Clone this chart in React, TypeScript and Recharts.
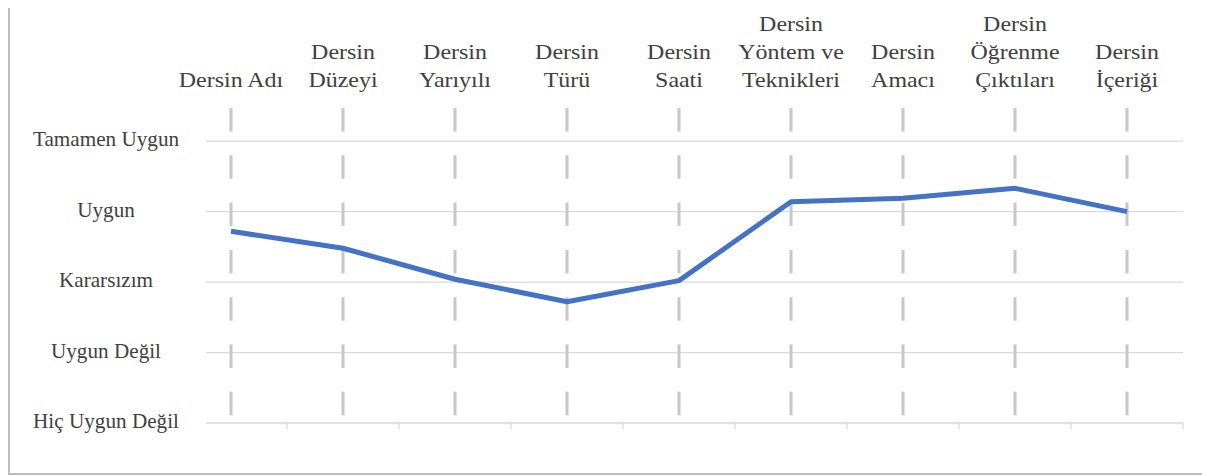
import { LineChart, Line, XAxis, YAxis, CartesianGrid } from "recharts"

// category labels, already broken into the lines shown above the plot
const categoryLines = [
  ["Dersin Adı"],
  ["Dersin", "Düzeyi"],
  ["Dersin", "Yarıyılı"],
  ["Dersin", "Türü"],
  ["Dersin", "Saati"],
  ["Dersin", "Yöntem ve", "Teknikleri"],
  ["Dersin", "Amacı"],
  ["Dersin", "Öğrenme", "Çıktıları"],
  ["Dersin", "İçeriği"],
]
const categories = categoryLines.map((l) => l.join(" "))

const scores = [3.72, 3.48, 3.04, 2.72, 3.02, 4.14, 4.19, 4.33, 4.0]

const levelTicks = [1, 2, 3, 4, 5]
const levelLabels = ["Hiç Uygun Değil", "Uygun Değil", "Kararsızım", "Uygun", "Tamamen Uygun"]

const data = categories.map((name, i) => ({ name, score: scores[i] }))

const textColor = "#404040"
const font = "'Liberation Serif', 'Times New Roman', serif"
const halfBand = 56

function TopTick(props: any) {
  const { x, y, index } = props
  const lines = categoryLines[index] || []
  return (
    <text
      transform={`translate(${x} 0) scale(1.14 1)`}
      textAnchor="middle"
      fontSize={21}
      fontFamily={font}
      fill={textColor}
    >
      {lines.map((l, i) => (
        <tspan key={i} x={0} y={y - 21 - (lines.length - 1 - i) * 28}>
          {l}
        </tspan>
      ))}
    </text>
  )
}

// small tick mark on the right edge of each category
function EdgeTick(props: any) {
  const { x, y } = props
  return <line x1={x + halfBand} y1={y} x2={x + halfBand} y2={y + 6} stroke="#d9d9d9" strokeWidth={1.3} />
}

function LevelTick(props: any) {
  const { y, payload } = props
  const label = levelLabels[levelTicks.indexOf(payload.value)]
  return (
    <text
      transform={`translate(96 0) scale(1.06 1)`}
      x={0}
      y={y + 5}
      textAnchor="middle"
      fontSize={20}
      fontFamily={font}
      fill={textColor}
    >
      {label}
    </text>
  )
}

export default function App() {
  return (
    <div style={{ marginTop: -6 }}>
      <div
        style={{
          width: 1196,
          height: 469,
          border: "2px solid #bdbdbd",
          background: "#fff",
        }}
      >
        <LineChart
          width={1196}
          height={469}
          data={data}
          margin={{ top: 0, right: 23, bottom: 0, left: 0 }}
        >
          <CartesianGrid
            xAxisId="top"
            yAxisId="y"
            vertical={false}
            syncWithTicks
            horizontal={(p: any) => (
              <line
                key={`h-${p.y1}`}
                x1={p.x1 + 31}
                y1={p.y1}
                x2={p.x2}
                y2={p.y2}
                stroke="#d9d9d9"
                strokeWidth={1.3}
              />
            )}
          />
          <CartesianGrid
            xAxisId="top"
            yAxisId="y"
            horizontal={false}
            syncWithTicks
            stroke="#c8c8c8"
            strokeWidth={3}
            strokeDasharray="23.5 23.8"
          />
          <XAxis
            xAxisId="top"
            dataKey="name"
            orientation="top"
            height={104}
            padding={{ left: halfBand, right: halfBand }}
            axisLine={false}
            tickLine={false}
            tickSize={0}
            tickMargin={0}
            interval={0}
            tick={<TopTick />}
          />
          <XAxis
            xAxisId="edge"
            dataKey="name"
            orientation="bottom"
            height={50}
            padding={{ left: halfBand, right: halfBand }}
            axisLine={false}
            tickLine={false}
            tickSize={0}
            tickMargin={0}
            interval={0}
            tick={<EdgeTick />}
          />
          <YAxis
            yAxisId="y"
            type="number"
            domain={[1, 5.47]}
            ticks={levelTicks}
            width={165}
            axisLine={false}
            tickLine={false}
            tick={<LevelTick />}
          />
          <Line
            xAxisId="top"
            yAxisId="y"
            type="linear"
            dataKey="score"
            stroke="#4472c4"
            strokeWidth={5}
            strokeLinejoin="round"
            dot={false}
            activeDot={false}
            isAnimationActive={false}
          />
        </LineChart>
      </div>
    </div>
  )
}
